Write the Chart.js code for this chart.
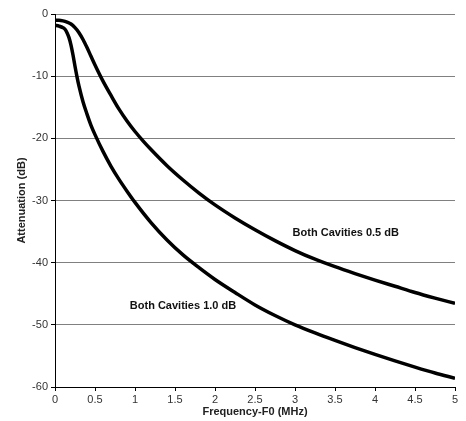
<!DOCTYPE html>
<html>
<head>
<meta charset="utf-8">
<script src="https://cdn.jsdelivr.net/npm/chart.js@4/dist/chart.umd.min.js"></script>
<style>
  html, body { margin: 0; padding: 0; background: #fff; }
  #wrap { width: 466px; height: 421px; }
</style>
</head>
<body>
<div id="wrap"><canvas id="chart"></canvas></div>
<script>
// frequency offsets (MHz) and attenuation readings (dB)
var freqHalf = [0, 0.05, 0.1, 0.15, 0.2, 0.25, 0.3, 0.35, 0.4, 0.45, 0.5, 0.6, 0.7, 0.8, 0.9, 1.0, 1.1, 1.2, 1.4, 1.6, 1.8, 2.0, 2.25, 2.5, 2.75, 3.0, 3.25, 3.5, 3.75, 4.0, 4.25, 4.5, 4.75, 5.0];
var attHalf = [-1.0, -1.0, -1.1, -1.3, -1.6, -2.2, -3.0, -4.1, -5.4, -6.8, -8.2, -10.8, -13.1, -15.3, -17.2, -18.9, -20.4, -21.8, -24.4, -26.7, -28.8, -30.7, -32.8, -34.7, -36.45, -38.05, -39.45, -40.65, -41.75, -42.8, -43.8, -44.8, -45.7, -46.55];

var freqOne = [0, 0.05, 0.1, 0.125, 0.15, 0.175, 0.2, 0.225, 0.25, 0.275, 0.3, 0.35, 0.4, 0.45, 0.5, 0.6, 0.7, 0.8, 0.9, 1.0, 1.2, 1.4, 1.6, 1.8, 2.0, 2.25, 2.5, 2.75, 3.0, 3.25, 3.5, 3.75, 4.0, 4.25, 4.5, 4.75, 5.0];
var attOne = [-1.8, -1.95, -2.2, -2.45, -3.0, -3.8, -5.0, -6.6, -8.4, -10.1, -11.6, -14.1, -16.1, -17.9, -19.4, -22.1, -24.5, -26.6, -28.5, -30.3, -33.55, -36.35, -38.75, -40.8, -42.7, -44.8, -46.8, -48.5, -50.0, -51.3, -52.5, -53.65, -54.75, -55.8, -56.8, -57.75, -58.6];

var seriesNames = ["Both Cavities 0.5 dB", "Both Cavities 1.0 dB"];

function toPoints(xs, ys) {
    return xs.map(function (x, i) { return { x: x, y: ys[i] }; });
}

// curve labels placed in data units
var curveLabels = [
    { text: seriesNames[0], x: 2.97, y: -35.2 },
    { text: seriesNames[1], x: 0.935, y: -46.9 }
];

var labelPlugin = {
    id: "curveLabels",
    afterDatasetsDraw: function (chart) {
        var ctx = chart.ctx;
        var xs = chart.scales.x, ys = chart.scales.y;
        ctx.save();
        ctx.font = "bold 11px 'Liberation Sans', Arial, sans-serif";
        ctx.fillStyle = "#111";
        ctx.textAlign = "left";
        ctx.textBaseline = "middle";
        curveLabels.forEach(function (l) {
            ctx.fillText(l.text, xs.getPixelForValue(l.x), ys.getPixelForValue(l.y));
        });
        ctx.restore();
    }
};

var tickFont = { family: "'Liberation Sans', Arial, sans-serif", size: 11 };
var titleFont = { family: "'Liberation Sans', Arial, sans-serif", size: 11, weight: "bold" };

new Chart(document.getElementById("chart"), {
    type: "line",
    data: {
        datasets: [{
            label: seriesNames[0],
            data: toPoints(freqHalf, attHalf),
            borderColor: "#000",
            borderWidth: 3.5,
            pointRadius: 0,
            cubicInterpolationMode: "monotone",
            fill: false
        }, {
            label: seriesNames[1],
            data: toPoints(freqOne, attOne),
            borderColor: "#000",
            borderWidth: 3.5,
            pointRadius: 0,
            cubicInterpolationMode: "monotone",
            fill: false
        }]
    },
    options: {
        responsive: true,
        maintainAspectRatio: false,
        animation: false,
        layout: { padding: { left: 0, right: 11, top: 14, bottom: 0 } },
        plugins: {
            legend: { display: false },
            tooltip: { enabled: false }
        },
        scales: {
            x: {
                type: "linear",
                min: 0,
                max: 5,
                ticks: {
                    stepSize: 0.5,
                    color: "#333",
                    font: tickFont,
                    padding: 2,
                    maxRotation: 0,
                    callback: function (v) { return String(v); }
                },
                grid: { drawOnChartArea: false, drawTicks: true, tickLength: 4, tickColor: "#000" },
                border: { color: "#000", width: 1 },
                title: { display: true, text: "Frequency-F0 (MHz)", color: "#222", font: titleFont, padding: { top: 0, bottom: 2 } },
                afterFit: function (scale) { scale.height = 34; }
            },
            y: {
                min: -60,
                max: 0,
                ticks: {
                    stepSize: 10,
                    color: "#333",
                    font: tickFont,
                    padding: 3
                },
                grid: { color: "#808080", drawTicks: true, tickLength: 4, tickColor: "#000" },
                border: { color: "#000", width: 1 },
                title: { display: true, text: "Attenuation (dB)", color: "#222", font: titleFont, padding: { top: 15, bottom: 0 } },
                afterFit: function (scale) { scale.width = 55; }
            }
        }
    },
    plugins: [labelPlugin]
});
</script>
</body>
</html>
